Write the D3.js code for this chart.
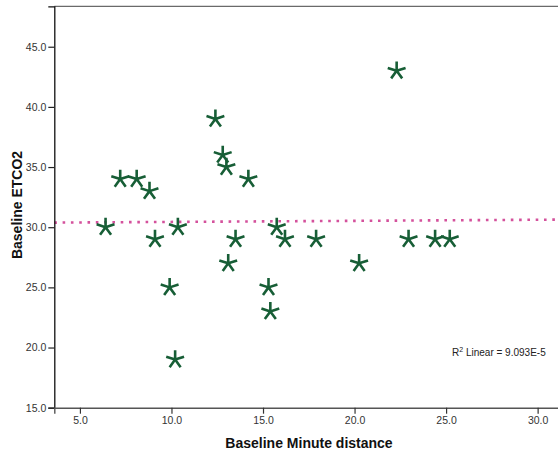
<!DOCTYPE html>
<html>
<head>
<meta charset="utf-8">
<script src="https://cdn.jsdelivr.net/npm/d3@7"></script>
<style>
  html, body { margin: 0; padding: 0; background: #fff; }
  svg { display: block; font-family: "Liberation Sans", Arial, sans-serif; }
</style>
</head>
<body>
<svg id="chart" width="558" height="455"></svg>
<script>
// Baseline minute distance (x) and baseline ETCO2 (y) per case
const minuteDistance = [6.4, 7.2, 8.1, 8.8, 9.1, 9.9, 10.35, 10.2, 12.4, 12.8, 13.0, 13.1,
                        13.5, 14.2, 15.3, 15.4, 15.75, 16.2, 17.9, 20.25, 22.3, 22.95, 24.4, 25.2];
const etco2 = [30, 34, 34, 33, 29, 25, 30, 19, 39, 36, 35, 27,
               29, 34, 25, 23, 30, 29, 29, 27, 43, 29, 29, 29];

// Linear fit line
const fitIntercept = 30.35;
const fitSlope = 0.009;
const fitLabel = "9.093E-5";

// Axis ticks
const xTicks = [5, 10, 15, 20, 25, 30];
const yTicks = [15, 20, 25, 30, 35, 40, 45];

const svg = d3.select("#chart");

const x = d3.scaleLinear().domain([3.6, 31.2]).range([54.3, 559.6]);
const y = d3.scaleLinear().domain([15, 48.36]).range([407.7, 6.3]);

// Plot frame (top edge; right edge falls outside the window)
svg.append("line")
  .attr("x1", x.range()[0]).attr("x2", x.range()[1])
  .attr("y1", y.range()[1]).attr("y2", y.range()[1])
  .attr("stroke", "#6a6a6a").attr("stroke-width", 1.2);

// Fit line
const xd = x.domain();
svg.append("line")
  .attr("x1", x(xd[0])).attr("y1", y(fitIntercept + fitSlope * xd[0]))
  .attr("x2", x(xd[1])).attr("y2", y(fitIntercept + fitSlope * xd[1]))
  .attr("stroke", "#d4519c")
  .attr("stroke-width", 2.6)
  .attr("stroke-dasharray", "2.6,5.7");

// Five-armed asterisk marker
const star5 = {
  draw(ctx, size) {
    const r = Math.sqrt(size);
    for (let k = 0; k < 5; k++) {
      const a = -Math.PI / 2 + k * 2 * Math.PI / 5;
      ctx.moveTo(0, 0);
      ctx.lineTo(r * Math.cos(a), r * Math.sin(a));
    }
  }
};
const marker = d3.symbol().type(star5).size(88);

svg.append("g")
  .selectAll("path")
  .data(minuteDistance.map((d, i) => [d, etco2[i]]))
  .join("path")
  .attr("d", marker)
  .attr("transform", d => `translate(${x(d[0])},${y(d[1])})`)
  .attr("fill", "none")
  .attr("stroke", "#175e36")
  .attr("stroke-width", 2.6)
  .attr("stroke-linecap", "butt");

// Axes
const yAxis = svg.append("g")
  .attr("transform", `translate(${x.range()[0]},0)`)
  .call(d3.axisLeft(y).tickValues(yTicks).tickFormat(d3.format(".1f")).tickSizeOuter(0).tickSize(6).tickPadding(2));
yAxis.select(".domain").attr("stroke", "#111").attr("stroke-width", 1.3);
yAxis.selectAll(".tick line").attr("stroke", "#222").attr("stroke-width", 1.2);
yAxis.selectAll(".tick text").attr("fill", "#333").attr("font-size", 10.5).attr("font-family", "Liberation Sans, Arial, sans-serif");

const xAxis = svg.append("g")
  .attr("transform", `translate(0,${y.range()[0]})`)
  .call(d3.axisBottom(x).tickValues(xTicks).tickFormat(d3.format(".1f")).tickSizeOuter(0).tickSize(6).tickPadding(3));
xAxis.select(".domain").attr("stroke", "#555").attr("stroke-width", 1.4);
xAxis.selectAll(".tick line").attr("stroke", "#333").attr("stroke-width", 1.2);
xAxis.selectAll(".tick text").attr("fill", "#333").attr("font-size", 10.5).attr("font-family", "Liberation Sans, Arial, sans-serif");

// Axis titles
svg.append("text")
  .attr("x", 309).attr("y", 448)
  .attr("text-anchor", "middle")
  .attr("font-size", 14).attr("font-weight", "bold").attr("fill", "#111")
  .text("Baseline Minute distance");

svg.append("text")
  .attr("transform", "translate(22,205) rotate(-90)")
  .attr("text-anchor", "middle")
  .attr("font-size", 14).attr("font-weight", "bold").attr("fill", "#111")
  .text("Baseline ETCO2");

// Fit statistic
const r2 = svg.append("text")
  .attr("x", 452).attr("y", 356)
  .attr("font-size", 10).attr("fill", "#222");
r2.append("tspan").text("R");
r2.append("tspan").attr("font-size", 7).attr("dy", -4).text("2");
r2.append("tspan").attr("dy", 4).text(" Linear = " + fitLabel);
</script>
</body>
</html>
